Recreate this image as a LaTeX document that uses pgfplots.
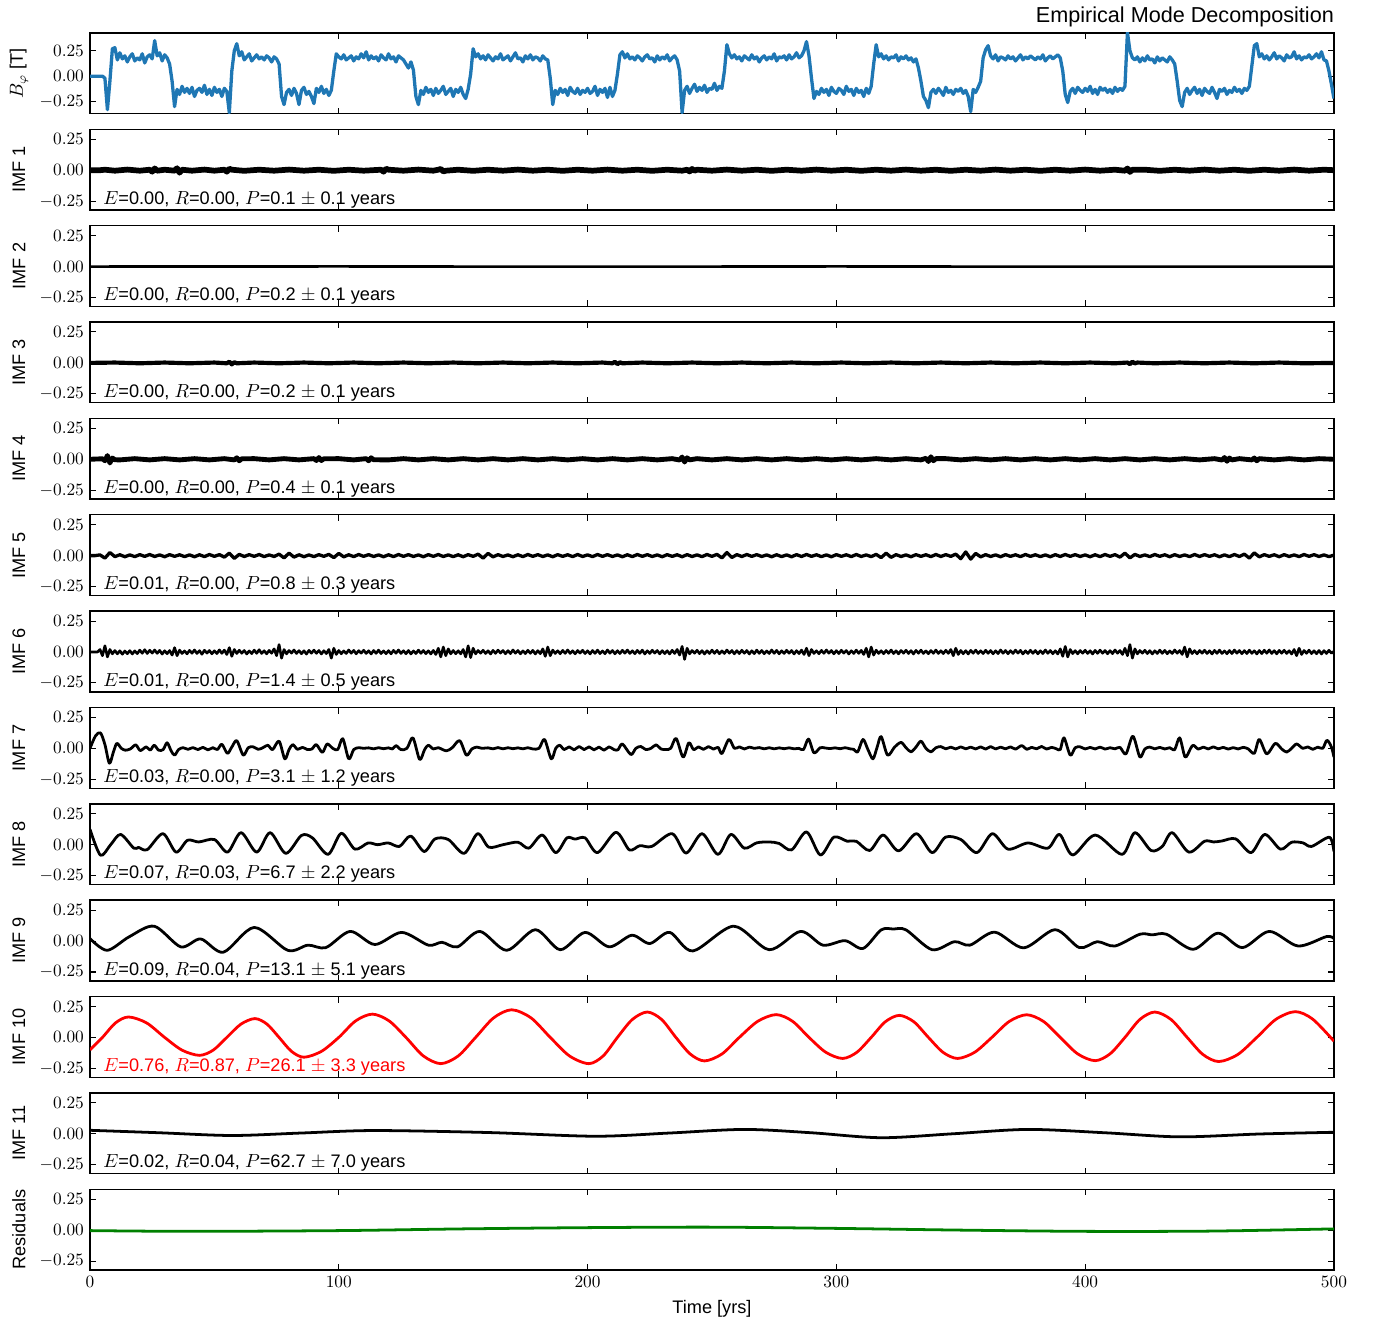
\documentclass[border=0pt]{standalone}
\usepackage{fontspec}
\setmainfont{Liberation Sans}
\usepackage{pgfplots}
\usepackage{pgfplotstable}
\pgfplotsset{compat=1.18}

\definecolor{mplblue}{HTML}{1F77B4}
\definecolor{mplgreen}{HTML}{008000}
\definecolor{mplred}{HTML}{FF0000}

\pgfplotsset{
  emdpanel/.style={
    scale only axis, width=716.5bp, height=46.5bp,
    anchor=north west,
    xmin=0, xmax=500, ymin=-0.322, ymax=0.33,
    xtick={0,100,200,300,400,500}, xticklabels={},
    ytick={-0.25,0,0.25}, yticklabels={$-0.25$,$0.00$,$0.25$},
    tick align=inside, major tick length=3.5bp,
    every tick/.style={black, line width=0.6bp},
    axis line style={black, line width=0.8bp},
    tick label style={font=\fontsize{10}{12}\selectfont},
    every axis y label/.style={at={(axis description cs:-0.0571,0.5)}, rotate=90, anchor=center, font=\fontsize{10.5}{12}\selectfont},
    clip mode=individual,
  },
  imf/.style={black, line width=1.6bp, line join=round},
}

% statistics line in the lower left corner of a panel
\newcommand{\emdstats}[4][black]{%
  \node[anchor=base west, inner sep=0pt, text=#1, font=\fontsize{10.5}{12}\selectfont]
    at (axis description cs:0.0105,0.07) {$E$=#2, $R$=#3, $P$=#4 years};}

\begin{document}
\begin{tikzpicture}
\path[use as bounding box] (-51.84bp,19bp) rectangle (740.16bp,-741.9bp);

% ---------------- signal ----------------
\begin{axis}[emdpanel, at={(0bp,0bp)}, ymin=-0.37, ymax=0.425,
  ylabel={$B_\varphi$ [T]},
  title={Empirical Mode Decomposition},
  every axis title/.style={at={(axis description cs:1,1)}, anchor=base east, xshift=3.5bp, yshift=6.3bp, font=\fontsize{12.5}{14}\selectfont}]
\addplot[mplblue, line width=1.9bp, line join=round] table[header=false, row sep=\\, x expr=\coordindex, y index=0] {
0\\0\\0\\0\\0\\0\\-0.02\\-0.33\\-0.05\\0.27\\
0.28\\0.16\\0.23\\0.17\\0.20\\0.14\\0.19\\0.22\\0.15\\0.18\\
0.16\\0.22\\0.13\\0.19\\0.21\\0.17\\0.35\\0.20\\0.23\\0.15\\
0.21\\0.18\\0.12\\-0.05\\-0.30\\-0.13\\-0.18\\-0.10\\-0.16\\-0.12\\
-0.17\\-0.11\\-0.20\\-0.14\\-0.12\\-0.16\\-0.09\\-0.18\\-0.13\\-0.19\\
-0.11\\-0.16\\-0.13\\-0.20\\-0.12\\-0.15\\-0.36\\0.05\\0.25\\0.32\\
0.20\\0.24\\0.16\\0.19\\0.22\\0.15\\0.18\\0.21\\0.17\\0.19\\
0.16\\0.20\\0.18\\0.14\\0.19\\0.17\\0.12\\-0.20\\-0.28\\-0.16\\
-0.13\\-0.19\\-0.12\\-0.17\\-0.28\\-0.14\\-0.11\\-0.18\\-0.15\\-0.20\\
-0.27\\-0.12\\-0.16\\-0.10\\-0.17\\-0.13\\-0.19\\-0.14\\0.05\\0.22\\
0.19\\0.17\\0.21\\0.16\\0.18\\0.20\\0.15\\0.19\\0.17\\0.22\\
0.18\\0.24\\0.16\\0.20\\0.17\\0.19\\0.15\\0.21\\0.18\\0.16\\
0.22\\0.17\\0.19\\0.14\\0.20\\0.18\\0.16\\0.12\\0.08\\0.14\\
0.06\\-0.20\\-0.28\\-0.14\\-0.18\\-0.11\\-0.16\\-0.13\\-0.19\\-0.12\\
-0.17\\-0.14\\-0.10\\-0.18\\-0.15\\-0.12\\-0.20\\-0.13\\-0.16\\-0.11\\
-0.18\\-0.22\\-0.13\\0.02\\0.27\\0.19\\0.22\\0.17\\0.20\\0.16\\
0.21\\0.18\\0.15\\0.19\\0.17\\0.22\\0.16\\0.18\\0.20\\0.15\\
0.19\\0.23\\0.17\\0.18\\0.14\\0.20\\0.17\\0.21\\0.16\\0.19\\
0.18\\0.15\\0.20\\0.17\\0.16\\-0.02\\-0.28\\-0.14\\-0.18\\-0.12\\
-0.16\\-0.13\\-0.19\\-0.11\\-0.15\\-0.17\\-0.12\\-0.18\\-0.14\\-0.16\\
-0.12\\-0.17\\-0.15\\-0.10\\-0.19\\-0.13\\-0.16\\-0.12\\-0.21\\-0.11\\
-0.20\\-0.14\\0.02\\0.21\\0.24\\0.18\\0.22\\0.17\\0.19\\0.16\\
0.20\\0.18\\0.15\\0.19\\0.21\\0.17\\0.18\\0.14\\0.20\\0.16\\
0.19\\0.17\\0.21\\0.15\\0.18\\0.20\\0.16\\0.05\\-0.36\\-0.14\\
-0.10\\-0.17\\-0.12\\-0.08\\-0.15\\-0.11\\-0.14\\-0.09\\-0.16\\-0.12\\
-0.13\\-0.07\\-0.14\\-0.10\\-0.12\\0.05\\0.31\\0.22\\0.18\\0.21\\
0.17\\0.19\\0.15\\0.20\\0.18\\0.16\\0.21\\0.17\\0.19\\0.14\\
0.18\\0.20\\0.16\\0.19\\0.17\\0.22\\0.15\\0.19\\0.18\\0.20\\
0.16\\0.21\\0.17\\0.19\\0.23\\0.18\\0.20\\0.25\\0.34\\0.20\\
-0.02\\-0.22\\-0.15\\-0.18\\-0.12\\-0.16\\-0.13\\-0.19\\-0.11\\-0.15\\
-0.17\\-0.12\\-0.14\\-0.18\\-0.10\\-0.15\\-0.13\\-0.19\\-0.12\\-0.16\\
-0.14\\-0.20\\-0.12\\-0.17\\-0.10\\0.12\\0.31\\0.19\\0.22\\0.17\\
0.20\\0.16\\0.19\\0.18\\0.21\\0.15\\0.19\\0.17\\0.20\\0.16\\
0.18\\0.14\\0.17\\0.08\\-0.05\\-0.20\\-0.24\\-0.31\\-0.16\\-0.13\\
-0.17\\-0.12\\-0.15\\-0.19\\-0.11\\-0.16\\-0.14\\-0.18\\-0.13\\-0.15\\
-0.12\\-0.17\\-0.14\\-0.20\\-0.35\\-0.13\\-0.16\\-0.11\\-0.05\\0.18\\
0.26\\0.30\\0.20\\0.17\\0.21\\0.15\\0.19\\0.18\\0.16\\0.20\\
0.17\\0.19\\0.15\\0.18\\0.21\\0.16\\0.19\\0.17\\0.20\\0.18\\
0.16\\0.19\\0.17\\0.21\\0.15\\0.18\\0.20\\0.17\\0.19\\0.21\\
0.18\\0.05\\-0.18\\-0.26\\-0.15\\-0.12\\-0.17\\-0.11\\-0.14\\-0.16\\
-0.12\\-0.15\\-0.10\\-0.17\\-0.13\\-0.18\\-0.11\\-0.14\\-0.12\\-0.16\\
-0.13\\-0.17\\-0.11\\-0.15\\-0.12\\-0.14\\-0.10\\0.43\\0.25\\0.18\\
0.16\\0.19\\0.14\\0.18\\0.15\\0.20\\0.16\\0.17\\0.13\\0.19\\
0.15\\0.18\\0.16\\0.14\\0.19\\0.16\\0.12\\-0.05\\-0.24\\-0.30\\
-0.16\\-0.12\\-0.18\\-0.14\\-0.11\\-0.17\\-0.13\\-0.19\\-0.12\\-0.15\\
-0.17\\-0.11\\-0.16\\-0.22\\-0.13\\-0.15\\-0.12\\-0.18\\-0.14\\-0.16\\
-0.11\\-0.15\\-0.13\\-0.17\\-0.12\\-0.14\\-0.10\\0.10\\0.30\\0.32\\
0.19\\0.22\\0.17\\0.20\\0.16\\0.19\\0.23\\0.17\\0.20\\0.18\\
0.15\\0.21\\0.18\\0.19\\0.24\\0.17\\0.20\\0.16\\0.19\\0.18\\
0.21\\0.17\\0.19\\0.22\\0.18\\0.24\\0.16\\0.15\\0.05\\-0.08\\
-0.22\\
};
\end{axis}

% ---------------- IMF 1 ----------------
\begin{axis}[emdpanel, at={(0bp,-55.5bp)}, ylabel={IMF 1}]
\addplot[imf, line width=3.3bp] coordinates {
(0,0)(4,0)(6,0.004)(10,-0.004)(15,0.005)(20,-0.004)(24,0.004)(25,-0.012)(26,0.014)(27,-0.004)
(30,0.004)(34,-0.004)(35,0.016)(36,-0.02)(37,0.004)(41,-0.004)(46,0.005)(50,-0.004)
(54,0.004)(55,-0.012)(56,0.012)(57,0.004)(62,-0.005)(68,0.004)(74,-0.004)(80,0.005)(86,-0.004)
(92,0.004)(98,-0.005)(104,0.004)(110,-0.004)(117,0.004)(118,-0.012)(119,0.012)(120,0.004)
(126,-0.004)(132,0.005)(138,-0.004)(140,0.004)(141,0.01)(142,-0.01)(143,-0.004)(148,0.004)
(154,-0.005)(160,0.004)(166,-0.004)(172,0.005)(178,-0.004)(184,0.004)(190,-0.005)(196,0.004)(202,-0.004)
(208,0.005)(214,-0.004)(220,0.004)(226,-0.005)(232,0.004)(238,-0.004)(240,0.004)(241,-0.01)(242,0.01)
(243,-0.004)(244,0.004)(250,-0.004)(256,0.005)(262,-0.004)(268,0.004)(274,-0.005)(280,0.004)(286,-0.004)
(292,0.005)(298,-0.004)(304,0.004)(310,-0.005)(316,0.004)(322,-0.004)(328,0.005)(334,-0.004)(340,0.004)
(346,-0.005)(352,0.004)(358,-0.004)(364,0.005)(370,-0.004)(376,0.004)(382,-0.005)(388,0.004)(394,-0.004)
(400,0.005)(406,-0.004)(412,0.004)(416,-0.004)(417,0.014)(418,-0.014)(419,0.004)(424,0.004)
(430,-0.005)(436,0.004)(442,-0.004)(448,0.005)(454,-0.004)(460,0.004)(466,-0.005)(472,0.004)(478,-0.004)
(484,0.005)(490,-0.004)(496,0.004)(500,0)
};
\emdstats{0.00}{0.00}{0.1 $\pm$ 0.1}
\end{axis}

% ---------------- IMF 2 ----------------
\begin{axis}[emdpanel, at={(0bp,-111bp)}, ylabel={IMF 2}]
\addplot[imf, line width=1.5bp] coordinates {(0,0)(100,0.001)(200,-0.001)(300,0.001)(400,-0.001)(500,0)};
\emdstats{0.00}{0.00}{0.2 $\pm$ 0.1}
\end{axis}

% ---------------- IMF 3 ----------------
\begin{axis}[emdpanel, at={(0bp,-166.5bp)}, ylabel={IMF 3}]
\addplot[imf, line width=2.4bp] coordinates {
(0,0)(10,0.003)(20,-0.003)(30,0.003)(40,-0.003)(50,0.003)(55,-0.003)(56,0.01)(57,-0.012)(58,0.006)(59,-0.003)
(66,0.003)(76,-0.003)(86,0.003)(96,-0.003)(106,0.003)(116,-0.003)(126,0.003)(136,-0.003)(146,0.003)(156,-0.003)
(166,0.003)(176,-0.003)(186,0.003)(196,-0.003)(206,0.003)(210,-0.003)(211,0.009)(212,-0.01)(213,0.005)
(214,-0.003)(222,0.003)(232,-0.003)(242,0.003)(252,-0.003)(262,0.003)(272,-0.003)(282,0.003)(292,-0.003)
(302,0.003)(312,-0.003)(322,0.003)(332,-0.003)(342,0.003)(352,-0.003)(362,0.003)(372,-0.003)(382,0.003)
(392,-0.003)(402,0.003)(412,-0.003)(417,0.003)(418,-0.01)(419,0.01)(420,-0.004)(421,0.003)(428,-0.003)
(438,0.003)(448,-0.003)(458,0.003)(468,-0.003)(478,0.003)(488,-0.003)(500,0)
};
\emdstats{0.00}{0.00}{0.2 $\pm$ 0.1}
\end{axis}

% ---------------- IMF 4 ----------------
\begin{axis}[emdpanel, at={(0bp,-222bp)}, ylabel={IMF 4}]
\addplot[imf, line width=2.8bp] coordinates {
(0,0)(5,0.004)(6,-0.012)(7,0.03)(8,-0.03)(9,0.01)(10,-0.004)(12,-0.005)(18,0.005)(24,-0.005)
(30,0.005)(36,-0.005)(42,0.005)(48,-0.005)(54,0.005)(58,-0.005)(59,0.012)(60,-0.012)(61,0.004)
(66,0.005)(72,-0.005)(78,0.005)(84,-0.005)(90,0.005)(91,-0.01)(92,0.014)(93,-0.01)(94,0.004)
(100,0.005)(106,-0.005)(111,0.005)(112,-0.012)(113,0.012)(114,-0.004)(120,-0.005)(126,0.005)
(132,-0.005)(138,0.005)(144,-0.005)(150,0.005)(156,-0.005)(162,0.005)(168,-0.005)(174,0.005)(180,-0.005)
(186,0.005)(192,-0.005)(198,0.005)(204,-0.005)(210,0.005)(216,-0.005)(222,0.005)(228,-0.005)(234,0.005)
(237,-0.006)(238,0.018)(239,-0.022)(240,0.012)(241,-0.005)(244,0.005)(250,-0.005)(256,0.005)(262,-0.005)
(268,0.005)(274,-0.005)(280,0.005)(286,-0.005)(292,0.005)(298,-0.005)(304,0.005)(310,-0.005)(316,0.005)
(322,-0.005)(328,0.005)(334,-0.005)(336,0.008)(337,-0.018)(338,0.02)(339,-0.012)(340,0.005)
(344,0.005)(350,-0.005)(356,0.005)(362,-0.005)(368,0.005)(374,-0.005)(380,0.005)(386,-0.005)(392,0.005)
(398,-0.005)(404,0.005)(410,-0.005)(416,0.005)(422,-0.005)(428,0.005)(434,-0.005)(440,0.005)(446,-0.005)
(452,0.005)(455,-0.006)(456,0.014)(457,-0.016)(458,0.01)(459,-0.005)(462,0.005)(467,-0.005)
(468,0.01)(469,-0.012)(470,0.005)(476,-0.005)(482,0.005)(488,-0.005)(494,0.005)(500,0)
};
\emdstats{0.00}{0.00}{0.4 $\pm$ 0.1}
\end{axis}

% ---------------- IMF 5 (sampled every 2 years) ----------------
\begin{axis}[emdpanel, at={(0bp,-277.5bp)}, ylabel={IMF 5}]
\addplot[imf, line width=1.9bp] table[header=false, row sep=\\, x expr=\coordindex*2, y index=0] {
0\\0\\0.006\\-0.020\\0.025\\-0.008\\0.007\\-0.009\\0.006\\-0.008\\
0.008\\-0.006\\0.009\\-0.007\\0.006\\-0.009\\0.008\\-0.006\\0.007\\-0.008\\
0.006\\-0.009\\0.007\\-0.008\\0.009\\-0.006\\0.008\\-0.012\\0.020\\-0.022\\
0.010\\-0.007\\0.008\\-0.006\\0.009\\-0.008\\0.006\\-0.007\\0.012\\-0.018\\
0.020\\-0.012\\0.007\\-0.009\\0.006\\-0.008\\0.008\\-0.006\\0.010\\-0.016\\
0.018\\-0.010\\0.007\\-0.008\\0.009\\-0.006\\0.008\\-0.007\\0.006\\-0.009\\
0.007\\-0.008\\0.009\\-0.006\\0.008\\-0.007\\0.006\\-0.009\\0.008\\-0.006\\
0.009\\-0.007\\0.006\\-0.008\\0.007\\-0.009\\0.008\\-0.006\\0.012\\-0.020\\
0.018\\-0.010\\0.008\\-0.007\\0.006\\-0.009\\0.007\\-0.008\\0.009\\-0.006\\
0.008\\-0.007\\0.006\\-0.009\\0.008\\-0.006\\0.007\\-0.008\\0.009\\-0.007\\
0.006\\-0.008\\0.009\\-0.006\\0.008\\-0.007\\0.006\\-0.009\\0.007\\-0.008\\
0.009\\-0.006\\0.008\\-0.007\\0.006\\-0.009\\0.008\\-0.006\\0.007\\-0.009\\
0.008\\-0.007\\0.006\\-0.008\\0.009\\-0.006\\0.010\\-0.018\\0.025\\-0.015\\
0.008\\-0.007\\0.009\\-0.006\\0.008\\-0.007\\0.006\\-0.009\\0.007\\-0.008\\
0.006\\-0.009\\0.008\\-0.007\\0.009\\-0.006\\0.007\\-0.008\\0.006\\-0.009\\
0.008\\-0.006\\0.007\\-0.008\\0.009\\-0.007\\0.006\\-0.008\\0.010\\-0.016\\
0.020\\-0.014\\0.008\\-0.007\\0.006\\-0.009\\0.008\\-0.006\\0.007\\-0.008\\
0.009\\-0.007\\0.008\\-0.006\\0.012\\-0.025\\0.030\\-0.028\\0.018\\-0.010\\
0.008\\-0.007\\0.006\\-0.009\\0.008\\-0.006\\0.007\\-0.008\\0.009\\-0.006\\
0.007\\-0.008\\0.006\\-0.009\\0.008\\-0.007\\0.009\\-0.006\\0.008\\-0.007\\
0.006\\-0.009\\0.007\\-0.008\\0.009\\-0.006\\0.008\\-0.012\\0.020\\-0.018\\
0.010\\-0.007\\0.006\\-0.008\\0.009\\-0.006\\0.007\\-0.009\\0.008\\-0.007\\
0.006\\-0.008\\0.009\\-0.007\\0.008\\-0.006\\0.007\\-0.009\\0.006\\-0.008\\
0.009\\-0.007\\0.012\\-0.020\\0.022\\-0.010\\0.008\\-0.006\\0.007\\-0.009\\
0.008\\-0.007\\0.006\\-0.008\\0.009\\-0.006\\0.008\\-0.007\\0.006\\-0.008\\
0.004\\
};
\emdstats{0.01}{0.00}{0.8 $\pm$ 0.3}
\end{axis}

% ---------------- IMF 6 (sampled every year) ----------------
\begin{axis}[emdpanel, at={(0bp,-333bp)}, ylabel={IMF 6}]
\addplot[imf, line width=1.5bp] table[header=false, row sep=\\, x expr=\coordindex, y index=0] {
0\\0\\0\\0\\0.02\\-0.03\\0.05\\-0.04\\0.02\\-0.015\\
0.012\\-0.015\\0.010\\-0.018\\0.008\\-0.014\\0.011\\-0.016\\0.009\\-0.013\\
0.015\\-0.010\\0.018\\-0.012\\0.014\\-0.009\\0.016\\-0.011\\0.013\\-0.017\\
0.010\\-0.014\\0.012\\-0.025\\0.035\\-0.030\\0.015\\-0.012\\0.009\\-0.015\\
0.013\\-0.010\\0.016\\-0.012\\0.011\\-0.018\\0.014\\-0.009\\0.012\\-0.015\\
0.010\\-0.013\\0.017\\-0.011\\0.015\\-0.020\\0.035\\-0.035\\0.020\\-0.012\\
0.014\\-0.010\\0.012\\-0.016\\0.009\\-0.013\\0.015\\-0.011\\0.018\\-0.012\\
0.010\\-0.015\\0.013\\-0.010\\0.025\\-0.030\\0.060\\-0.050\\0.020\\-0.015\\
0.012\\-0.009\\0.016\\-0.012\\0.011\\-0.014\\0.010\\-0.017\\0.013\\-0.010\\
0.015\\-0.011\\0.012\\-0.016\\0.010\\-0.013\\0.020\\-0.050\\0.030\\-0.020\\
0.012\\-0.014\\0.009\\-0.012\\0.016\\-0.010\\0.013\\-0.015\\0.011\\-0.009\\
0.014\\-0.012\\0.010\\-0.016\\0.012\\-0.011\\0.015\\-0.013\\0.009\\-0.014\\
0.011\\-0.015\\0.013\\-0.010\\0.016\\-0.012\\0.010\\-0.014\\0.012\\-0.016\\
0.009\\-0.013\\0.015\\-0.011\\0.012\\-0.014\\0.010\\-0.016\\0.013\\-0.020\\
0.030\\-0.040\\0.040\\-0.030\\0.025\\-0.015\\0.012\\-0.014\\0.010\\-0.015\\
0.020\\-0.040\\0.050\\-0.045\\0.030\\-0.015\\0.012\\-0.010\\0.014\\-0.012\\
0.010\\-0.016\\0.013\\-0.011\\0.015\\-0.009\\0.012\\-0.014\\0.011\\-0.013\\
0.016\\-0.010\\0.012\\-0.015\\0.009\\-0.013\\0.014\\-0.011\\0.013\\-0.016\\
0.011\\-0.014\\0.025\\-0.035\\0.040\\-0.030\\0.015\\-0.012\\0.010\\-0.014\\
0.013\\-0.011\\0.016\\-0.012\\0.010\\-0.015\\0.012\\-0.009\\0.014\\-0.013\\
0.010\\-0.016\\0.012\\-0.011\\0.015\\-0.013\\0.009\\-0.014\\0.016\\-0.010\\
0.012\\-0.015\\0.011\\-0.013\\0.014\\-0.010\\0.016\\-0.012\\0.010\\-0.014\\
0.013\\-0.011\\0.015\\-0.016\\0.010\\-0.012\\0.014\\-0.009\\0.012\\-0.015\\
0.011\\-0.013\\0.010\\-0.016\\0.014\\-0.012\\0.020\\-0.025\\0.045\\-0.060\\
0.030\\-0.015\\0.012\\-0.010\\0.014\\-0.013\\0.011\\-0.016\\0.010\\-0.012\\
0.015\\-0.011\\0.013\\-0.014\\0.009\\-0.012\\0.016\\-0.010\\0.012\\-0.015\\
0.011\\-0.013\\0.014\\-0.010\\0.012\\-0.016\\0.010\\-0.013\\0.015\\-0.011\\
0.012\\-0.014\\0.009\\-0.012\\0.016\\-0.011\\0.013\\-0.015\\0.010\\-0.012\\
0.014\\-0.010\\0.012\\-0.016\\0.011\\-0.013\\0.015\\-0.020\\0.030\\-0.030\\
0.020\\-0.012\\0.010\\-0.014\\0.013\\-0.011\\0.016\\-0.010\\0.012\\-0.015\\
0.011\\-0.013\\0.014\\-0.009\\0.012\\-0.016\\0.010\\-0.012\\0.015\\-0.011\\
0.013\\-0.020\\0.030\\-0.040\\0.040\\-0.025\\0.015\\-0.012\\0.010\\-0.014\\
0.012\\-0.011\\0.016\\-0.013\\0.010\\-0.015\\0.012\\-0.010\\0.014\\-0.012\\
0.011\\-0.016\\0.013\\-0.010\\0.015\\-0.012\\0.009\\-0.014\\0.012\\-0.011\\
0.016\\-0.012\\0.010\\-0.013\\0.014\\-0.011\\0.020\\-0.030\\0.030\\-0.020\\
0.012\\-0.014\\0.011\\-0.016\\0.013\\-0.010\\0.015\\-0.012\\0.010\\-0.013\\
0.014\\-0.011\\0.012\\-0.015\\0.010\\-0.013\\0.016\\-0.010\\0.012\\-0.014\\
0.011\\-0.012\\0.015\\-0.009\\0.013\\-0.016\\0.010\\-0.012\\0.014\\-0.011\\
0.012\\-0.015\\0.010\\-0.013\\0.016\\-0.011\\0.012\\-0.014\\0.010\\-0.016\\
0.025\\-0.035\\0.045\\-0.040\\0.020\\-0.013\\0.011\\-0.015\\0.012\\-0.010\\
0.014\\-0.012\\0.010\\-0.016\\0.013\\-0.011\\0.015\\-0.010\\0.012\\-0.014\\
0.011\\-0.013\\0.016\\-0.010\\0.012\\-0.020\\0.030\\-0.030\\0.060\\-0.050\\
0.025\\-0.015\\0.012\\-0.010\\0.014\\-0.013\\0.011\\-0.016\\0.010\\-0.012\\
0.015\\-0.011\\0.013\\-0.014\\0.009\\-0.012\\0.016\\-0.010\\0.012\\-0.020\\
0.040\\-0.040\\0.025\\-0.013\\0.011\\-0.015\\0.012\\-0.010\\0.014\\-0.012\\
0.010\\-0.016\\0.013\\-0.011\\0.015\\-0.012\\0.009\\-0.014\\0.012\\-0.013\\
0.016\\-0.010\\0.012\\-0.014\\0.011\\-0.013\\0.015\\-0.011\\0.010\\-0.016\\
0.012\\-0.013\\0.014\\-0.010\\0.016\\-0.012\\0.011\\-0.015\\0.013\\-0.010\\
0.014\\-0.012\\0.010\\-0.016\\0.020\\-0.030\\0.030\\-0.020\\0.012\\-0.011\\
0.015\\-0.013\\0.010\\-0.014\\0.012\\-0.016\\0.011\\-0.012\\0.014\\-0.010\\
0.005\\
};
\emdstats{0.01}{0.00}{1.4 $\pm$ 0.5}
\end{axis}

% ---------------- IMF 7 ----------------
\begin{axis}[emdpanel, at={(0bp,-388.5bp)}, ylabel={IMF 7}]
\addplot[imf, smooth] coordinates {
(0,0)(2.2,0.10)(4.2,0.125)(6,0.03)(7.8,-0.12)(9.4,-0.03)(10.8,0.04)(12.6,0)(14.2,-0.015)(16.2,-0.005)
(18.4,0.028)(20.2,-0.018)(22.6,0.012)(24.2,-0.015)(25.8,0.025)(27.6,-0.015)(29.4,-0.01)(31,0.045)(32.6,-0.02)
(34,-0.055)(35.6,-0.01)(37.4,0.005)(39.4,-0.008)(41.4,0.006)(43.4,-0.01)(45.4,0.008)(47.4,-0.012)(49.4,0.005)
(51.2,-0.01)(53,0.033)(55.2,-0.04)(57,0.01)(59,0.062)(61.6,-0.055)(63.6,0.005)(65.6,0.012)(67.6,-0.008)
(69.6,0.006)(71.5,0.025)(73.4,-0.01)(76,0.058)(78.3,-0.085)(80,-0.01)(81.5,0.03)(83.4,-0.008)(85.4,0.008)
(87.4,-0.01)(89.2,-0.005)(91,0.03)(93.4,-0.033)(95.3,0.035)(97.6,0)(99.6,-0.01)(101.6,0.078)(104,-0.085)
(106,-0.01)(108,0.005)(110,0)(112,0.004)(114,-0.004)(116,0.005)(118,-0.003)(120,0.004)(121.6,-0.005)
(123,0.022)(125,-0.01)(127.4,0)(129.8,0.085)(132.5,-0.09)(134.5,-0.01)(136,0.025)(138,-0.005)(140,0.005)
(143.2,-0.02)(145.6,0.005)(148.6,0.062)(151.3,-0.055)(153.5,-0.005)(155.5,0.01)(157.5,0)(160,0.004)
(162,-0.004)(164,0.006)(166,-0.004)(168,0.005)(170,-0.003)(172,0.004)(174,-0.004)(176,0.005)(178,-0.005)
(180.5,0)(182.7,0.072)(185.4,-0.085)(187.2,0)(188.8,0.025)(190.6,-0.01)(192.6,0.012)(194.6,-0.012)
(196.6,0.015)(198.6,-0.01)(200.6,0.012)(202.6,-0.012)(204.6,0.01)(206.6,-0.015)(208.6,0.012)(210.6,-0.01)
(212.2,-0.012)(214,0.035)(217.4,-0.05)(219.4,0)(221.4,0.015)(223.4,-0.01)(225.5,0)(227.5,0.028)
(229.5,-0.005)(231.5,-0.01)(233.4,0)(235.6,0.08)(238.4,-0.07)(240.7,0.045)(242.6,-0.01)(244.6,0.012)
(246.6,-0.008)(248.6,0.014)(250.6,-0.006)(252.5,0.008)(254,-0.042)(256.8,0.072)(259,0)(261,0.012)
(263,-0.005)(265,0.01)(267,0)(269,0.006)(271,-0.004)(273,0.005)(275,-0.004)(277,0.004)(279,-0.003)
(281,0.004)(283,-0.004)(285,0)(286.8,-0.01)(288.8,0.075)(291,-0.036)(293.5,0.005)(295.5,0.003)
(297.5,-0.002)(299.5,0.004)(301.5,-0.003)(303.5,0.005)(305.5,-0.004)(307,-0.008)(308.6,-0.028)
(310.7,0.072)(312.7,-0.01)(314.7,-0.085)(316.4,0.01)(318,0.095)(320.6,-0.055)(323.4,0.01)(326,0.048)
(328,0.005)(330,-0.028)(332,0.01)(334,0.058)(336,0)(338,-0.028)(340,0.005)(342,0.014)(344,-0.004)
(346,0.01)(348,-0.005)(350,0.012)(352,-0.004)(354,0.01)(356,-0.005)(358,0.012)(360,-0.006)(362,0.014)
(364,-0.005)(366,0.01)(368,-0.004)(370,0.012)(372,-0.006)(374.5,0.022)(376.5,-0.008)(378.5,0.008)
(380.5,-0.004)(382.5,0.015)(384.5,-0.006)(386.5,0.008)(388.5,-0.004)(390,-0.01)(391.5,0.085)(394,-0.055)
(396,0.005)(398,0.012)(400,-0.005)(402,0.008)(404,-0.005)(406,0.01)(408,-0.006)(410,0.005)(412,-0.004)
(414,0.008)(416.4,-0.045)(419.2,0.098)(422,-0.07)(424,-0.005)(426,0.01)(428,-0.004)(430,0.008)(432,-0.005)
(434,0.005)(436,-0.01)(438,0.085)(440.2,-0.07)(442.4,0)(443.5,0.025)(445.5,-0.006)(447.5,0.01)
(449.5,-0.005)(451.5,0.012)(453.5,-0.004)(455.5,0.008)(457.5,-0.006)(459.5,0.006)(461.5,-0.005)
(463.5,0.008)(465.5,-0.004)(468,-0.04)(470,0.072)(473,-0.045)(476.4,0.04)(479,-0.005)(481,-0.03)(483,0)
(485,0.035)(487.5,0)(489.5,0.012)(491.5,-0.008)(493.5,0.01)(495.5,0)(497.2,0.065)(499,0.01)(500,-0.07)
};
\emdstats{0.03}{0.00}{3.1 $\pm$ 1.2}
\end{axis}

% ---------------- IMF 8 ----------------
\begin{axis}[emdpanel, at={(0bp,-444bp)}, ylabel={IMF 8}]
\addplot[imf, smooth] coordinates {
(0,0.125)(4.2,-0.085)(8.3,0)(12.3,0.083)(17.6,-0.028)(19.5,-0.022)(23,-0.04)(29.3,0.089)(34.6,-0.06)
(39.2,0.036)(43.7,0.022)(50,0.042)(55.3,-0.06)(60.7,0.097)(67,-0.06)(72.4,0.097)(78.7,-0.07)(85,0.075)
(89.4,0.055)(95.7,-0.078)(101,0.092)(106.5,-0.036)(111.8,0.014)(115.6,0)(119.9,0.014)(124.4,-0.014)
(128.9,0.07)(134.3,-0.055)(138.7,0.047)(144,0.042)(150.4,-0.07)(155.8,0.089)(160.3,-0.02)(166,0)(172,0.02)
(176.4,-0.028)(181.8,0.078)(187.2,-0.064)(191.7,0.055)(195,0.045)(199,0.055)(204,-0.064)(211.4,0.1)
(216.8,-0.042)(221,-0.008)(225.8,-0.014)(234,0.089)(239.6,-0.068)(246,0.089)(252.4,-0.078)(257.6,0.083)
(263,-0.028)(268,0.015)(273,0.022)(277,0.01)(282,-0.042)(288,0.103)(293.6,-0.083)(299,0.061)(304.4,0.028)
(308,0.028)(313.4,-0.047)(318.8,0.078)(325,-0.05)(332.2,0.089)(338.5,-0.064)(343.9,0.061)(350,0.042)
(356.5,-0.064)(362.7,0.089)(369,-0.036)(377,0.014)(385,-0.028)(389.7,0.083)(395,-0.083)(404,0.078)
(414.8,-0.078)(420,0.097)(426.5,-0.047)(431,-0.014)(435,0.097)(441.7,-0.06)(448,0.028)(451.6,0.022)
(455,0.03)(460.5,0.047)(466.7,-0.064)(472.2,0.083)(478.5,-0.036)(483,0.02)(487.5,0.015)(491,-0.014)
(498.2,0.06)(500,-0.055)
};
\emdstats{0.07}{0.03}{6.7 $\pm$ 2.2}
\end{axis}

% ---------------- IMF 9 ----------------
\begin{axis}[emdpanel, at={(0bp,-499.5bp)}, ylabel={IMF 9}]
\addplot[imf, smooth] coordinates {
(0,0.02)(6.9,-0.075)(15.8,0.035)(25.8,0.12)(36.5,-0.047)(44.5,0.017)(53.6,-0.09)(66,0.11)(79.5,-0.075)
(87.6,-0.033)(94.8,-0.053)(104.6,0.078)(114.5,-0.028)(125.3,0.07)(136,-0.033)(141.5,-0.01)(147.7,-0.047)
(156.7,0.078)(167.5,-0.075)(179,0.092)(189,-0.07)(199,0.07)(208.7,-0.047)(217.8,0.047)(225,-0.02)(233,0.07)
(242.3,-0.08)(258.7,0.12)(273,-0.07)(285.6,0.078)(294.6,-0.033)(303.5,0.003)(310.7,-0.06)(318,0.09)
(323,0.097)(328,0.09)(338.5,-0.07)(347.5,-0.005)(353.7,-0.033)(363.6,0.072)(375.3,-0.055)(387.9,0.092)
(397.7,-0.053)(404.9,-0.005)(412,-0.04)(422,0.055)(427,0.05)(432.7,0.055)(443.4,-0.067)(453.4,0.064)
(463.2,-0.053)(474,0.078)(485.6,-0.04)(497,0.036)(500,0.02)
};
\emdstats{0.09}{0.04}{13.1 $\pm$ 5.1}
\end{axis}

% ---------------- IMF 10 (dominant mode) ----------------
\begin{axis}[emdpanel, at={(0bp,-555bp)}, ylabel={IMF 10}]
\addplot[mplred, line width=1.6bp, smooth] coordinates {
(0,-0.10)(5,0)(10.25,0.117)(15.5,0.165)(22.75,0.117)(30,0)(37,-0.103)(44,-0.145)(49.5,-0.103)(55,0)
(60.65,0.107)(66.3,0.152)(71.15,0.107)(76,0)(81,-0.113)(86,-0.16)(93,-0.113)(100,0)
(106.75,0.133)(113.5,0.188)(120.25,0.133)(127,0)(134,-0.15)(141,-0.212)(148,-0.15)(155,0)
(162.25,0.158)(169.5,0.223)(177.25,0.158)(185,0)(192.75,-0.15)(200.5,-0.212)(206.25,-0.15)(212,0)
(218,0.145)(224,0.205)(229.75,0.145)(235.5,0)(241.25,-0.134)(247,-0.19)(254,-0.134)(261,0)
(268.4,0.13)(275.8,0.184)(282.4,0.13)(289,0)(295.75,-0.12)(302.5,-0.17)(308.25,-0.12)(314,0)
(319.65,0.126)(325.3,0.178)(331.15,0.126)(337,0)(342.85,-0.12)(348.7,-0.17)(355.6,-0.12)(362.5,0)
(369.5,0.129)(376.5,0.183)(383.25,0.129)(390,0)(397,-0.133)(404,-0.188)(410,-0.133)(416,0)
(422,0.145)(428,0.205)(434.5,0.145)(441,0)(447.35,-0.138)(453.7,-0.195)(461.35,-0.138)(469,0)
(476.75,0.147)(484.5,0.208)(491.5,0.147)(500,-0.03)
};
\emdstats[mplred]{0.76}{0.87}{26.1 $\pm$ 3.3}
\end{axis}

% ---------------- IMF 11 ----------------
\begin{axis}[emdpanel, at={(0bp,-610.5bp)}, ylabel={IMF 11}]
\addplot[imf, smooth] coordinates {
(0,0.028)(28,0.008)(57,-0.014)(85,0.006)(114,0.026)(160,0.01)(203,-0.02)(233,0.006)(263,0.035)(290,0.008)
(318,-0.032)(347,0)(377,0.035)(408,0.008)(438,-0.025)(470,-0.002)(500,0.012)
};
\emdstats{0.02}{0.04}{62.7 $\pm$ 7.0}
\end{axis}

% ---------------- residual trend ----------------
\begin{axis}[emdpanel, at={(0bp,-666bp)}, ylabel={Residuals},
  xticklabels={$0$,$100$,$200$,$300$,$400$,$500$},
  xlabel={Time [yrs]},
  every axis x label/.style={at={(axis description cs:0.5,0)}, anchor=base, yshift=-25.3bp, font=\fontsize{10.5}{12}\selectfont}]
\addplot[mplgreen, line width=1.6bp, smooth] coordinates {
(0,-0.004)(40,-0.01)(100,-0.004)(150,0.01)(200,0.02)(250,0.024)(300,0.014)(350,0)(400,-0.01)(450,-0.008)(500,0.01)
};
\end{axis}
\end{tikzpicture}
\end{document}
